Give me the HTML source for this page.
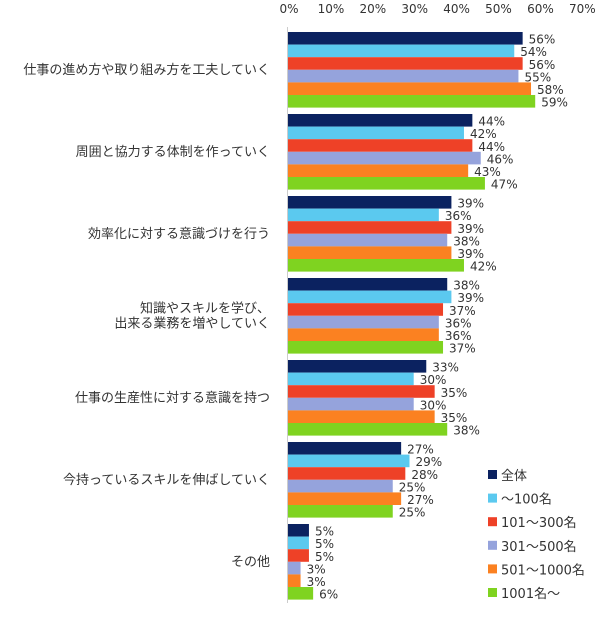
<!DOCTYPE html>
<html><head><meta charset="utf-8"><style>
body{margin:0;background:#fff;}
svg text{font-family:"DejaVu Sans","Noto Sans CJK JP",sans-serif;fill:#333;}
svg text.cat{font-family:"Liberation Sans","Noto Sans CJK JP",sans-serif;}
</style></head><body>
<svg id="c" width="605" height="615"></svg>
<script>
const categories=[["仕事の進め方や取り組み方を工夫していく"],["周囲と協力する体制を作っていく"],["効率化に対する意識づけを行う"],["知識やスキルを学び、","出来る業務を増やしていく"],["仕事の生産性に対する意識を持つ"],["今持っているスキルを伸ばしていく"],["その他"]];
const seriesNames=["全体","～100名","101～300名","301～500名","501～1000名","1001名～"];
const s0=[56,44,39,38,33,27,5];
const s1=[54,42,36,39,30,29,5];
const s2=[56,44,39,37,35,28,5];
const s3=[55,46,38,36,30,25,3];
const s4=[58,43,39,36,35,27,3];
const s5=[59,47,42,37,38,25,6];
const ticks=[0,10,20,30,40,50,60,70];
const series=[s0,s1,s2,s3,s4,s5];
const colors=["#0b2260","#5bc9ef","#ee4127","#95a3dc","#fb8121","#7fd320"];
const NS="http://www.w3.org/2000/svg";
const svg=document.getElementById('c');
const x0=288,px=4.19,gTop=32,gStep=82,bh=12.6;
const X=v=>x0+v*px;
function mk(t,a,p){const e=document.createElementNS(NS,t);for(const k in a)e.setAttribute(k,a[k]);(p||svg).appendChild(e);return e;}
ticks.forEach(t=>{const e=mk('text',{x:X(t)+1,y:13,'font-size':12,'text-anchor':'middle'});e.textContent=t+'%';

});
const ax=mk('line',{x1:x0-0.5,x2:x0-0.5,y1:27,y2:603,stroke:'#ccc'});


categories.forEach((c,i)=>{const top=gTop+i*gStep;const cy=top+bh*3;
c.forEach((ln,j)=>{const e=mk('text',{x:270,y:cy+4+(j-(c.length-1)/2)*15,'font-size':13,'text-anchor':'end','class':'cat'});e.textContent=ln;

});
series.forEach((s,k)=>{const y=top+k*bh;const r=mk('rect',{x:x0,y:y,width:X(s[i])-x0,height:bh,fill:colors[k]});


const t=mk('text',{x:X(s[i])+6,y:y+bh-1,'font-size':12});t.textContent=s[i]+'%';

});});
seriesNames.forEach((n,k)=>{const y=475+k*23.6;const r=mk('rect',{x:488,y:y-5,width:9,height:9,fill:colors[k]});


const t=mk('text',{x:501,y:y+5,'font-size':13});t.textContent=n;

});
</script></body></html>
